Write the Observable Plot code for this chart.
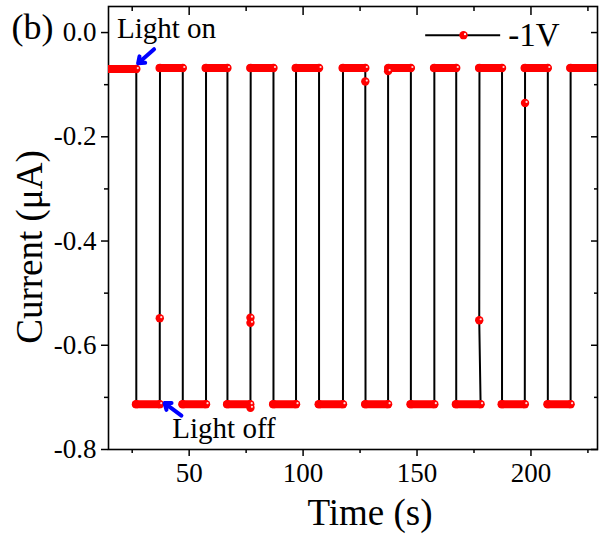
<!DOCTYPE html>
<html><head><meta charset="utf-8">
<script src="https://cdn.jsdelivr.net/npm/d3@7"></script>
<script src="https://cdn.jsdelivr.net/npm/@observablehq/plot@0.6"></script>
<style>body{margin:0;background:#fff} #chart svg{display:block}</style>
</head><body><div id="chart"></div>
<script>
// Photocurrent response at -1V
const time = [13, 26.8, 26.8, 37.1, 37.1, 37.2, 47.2, 47.2, 57.4, 57.4, 66.8, 66.8, 76.8, 76.9, 76.9, 76.9, 77.0,
  87.0, 87.0, 96.9, 96.9, 107.0, 107.0, 117.5, 117.5, 127.3, 127.3, 127.4, 137.3, 137.3, 137.5, 147.3, 147.3,
  157.6, 157.6, 167.2, 167.2, 177.9, 177.3, 177.4, 187.3, 187.3, 197.3, 197.4, 197.4, 207.4, 207.4, 217.4, 217.4, 231];
const current = [-0.070, -0.070, -0.713, -0.713, -0.548, -0.068, -0.068, -0.713, -0.713, -0.068, -0.068, -0.713, -0.713, -0.720, -0.557, -0.547, -0.068,
  -0.068, -0.713, -0.713, -0.068, -0.068, -0.713, -0.713, -0.068, -0.068, -0.094, -0.713, -0.713, -0.074, -0.068, -0.068, -0.713,
  -0.713, -0.068, -0.068, -0.713, -0.713, -0.552, -0.068, -0.068, -0.713, -0.713, -0.135, -0.068, -0.068, -0.713, -0.713, -0.068, -0.068];

const xTicks = [50, 100, 150, 200];
const xMinorTicks = [25, 75, 125, 175, 225];
const yTicks = [0.0, -0.2, -0.4, -0.6, -0.8];
const yMinorTicks = [-0.1, -0.3, -0.5, -0.7];

const seriesName = "-1V";
const panelLabel = "(b)";
const xTitle = "Time (s)";
const yTitle = "Current (μA)";

const noteText = ["Light on", "Light off"];
const noteTime = [18.3, 42.6];
const noteCurrent = [-0.010, -0.777];
const arrowTailTime = [34.6, 46.6];
const arrowTailCurrent = [-0.032, -0.735];
const arrowHeadTime = [27.6, 39.2];
const arrowHeadCurrent = [-0.059, -0.711];

const legendTime = [153.8, 186.7];
const legendDotTime = 170.4;
const legendCurrent = -0.005;
const legendTextTime = 190.0;

// build tables
const pts = time.map((t, i) => ({t, I: current[i]}));
const plateaus = [];
for (let i = 0; i < pts.length - 1; i++) {
  if (pts[i].I === pts[i + 1].I && pts[i + 1].t > pts[i].t) plateaus.push({t1: pts[i].t, t2: pts[i + 1].t, I: pts[i].I});
}
const highlights = pts.filter((p, i) => i < pts.length - 1 && pts[i + 1].I !== p.I);
const notes = noteText.map((s, i) => ({s, t: noteTime[i], I: noteCurrent[i]}));
const arrows = arrowTailTime.map((t, i) => ({x1: t, y1: arrowTailCurrent[i], x2: arrowHeadTime[i], y2: arrowHeadCurrent[i]}));

const RED = "#ff0000";
const F = "'Liberation Serif', 'Times New Roman', serif";

const chart = Plot.plot({
  width: 601, height: 535,
  marginLeft: 108, marginRight: 4, marginTop: 6, marginBottom: 86,
  x: {domain: [14.6, 229.2]},
  y: {domain: [-0.8, 0.05]},
  style: {fontFamily: F, background: "#fff", color: "#000"},
  marks: [
    // axes
    Plot.axisX(xTicks, {anchor: "bottom", tickSize: 7, tickPadding: 6, fontSize: 27, strokeWidth: 1.5, tickFormat: d => String(d), label: null}),
    Plot.axisX(xMinorTicks, {anchor: "bottom", tickSize: 4, strokeWidth: 1.5, tickFormat: () => "", label: null}),
    Plot.axisX(xTicks, {anchor: "top", tickSize: -8, strokeWidth: 1.5, tickFormat: () => "", label: null}),
    Plot.axisX(xMinorTicks, {anchor: "top", tickSize: -4, strokeWidth: 1.5, tickFormat: () => "", label: null}),
    Plot.axisY(yTicks, {anchor: "left", tickSize: 7, tickPadding: 5, fontSize: 27, strokeWidth: 1.5, tickFormat: d => d.toFixed(1), label: null}),
    Plot.axisY(yMinorTicks, {anchor: "left", tickSize: 4, strokeWidth: 1.5, tickFormat: () => "", label: null}),
    Plot.axisY(yTicks, {anchor: "right", tickSize: -7, strokeWidth: 1.5, tickFormat: () => "", label: null}),
    Plot.axisY(yMinorTicks, {anchor: "right", tickSize: -4, strokeWidth: 1.5, tickFormat: () => "", label: null}),
    Plot.frame({stroke: "#000", strokeWidth: 1.6}),
    // data
    Plot.line(pts, {x: "t", y: "I", stroke: "#000", strokeWidth: 2, clip: true}),
    Plot.ruleY(plateaus, {y: "I", x1: "t1", x2: "t2", stroke: RED, strokeWidth: 8, strokeLinecap: "round", clip: true}),
    Plot.dot(pts, {x: "t", y: "I", r: 4.2, fill: RED, clip: true}),
    Plot.dot(highlights, {x: "t", y: "I", r: 1.1, fill: "#fff", fillOpacity: 0.85, dx: 1.5, dy: -1, clip: true}),
    // annotations
    Plot.text(notes, {x: "t", y: "I", text: "s", textAnchor: "start", lineAnchor: "bottom", fontSize: 29, fill: "#000"}),
    Plot.arrow(arrows, {x1: "x1", y1: "y1", x2: "x2", y2: "y2", stroke: "#0000ff", strokeWidth: 4, headLength: 11, headAngle: 75}),
    // legend
    Plot.ruleY([legendCurrent], {x1: legendTime[0], x2: legendTime[1], stroke: "#000", strokeWidth: 2}),
    Plot.dot([legendDotTime], {x: d => d, y: () => legendCurrent, r: 4.2, fill: RED}),
    Plot.dot([legendDotTime], {x: d => d, y: () => legendCurrent, r: 1.1, fill: "#fff", dx: 1.5, dy: -1}),
    Plot.text([seriesName], {x: () => legendTextTime, y: () => legendCurrent, text: d => d, textAnchor: "start", fontSize: 33, fill: "#000"}),
    // titles
    Plot.text([panelLabel], {frameAnchor: "top-left", dx: -97, dy: 21, textAnchor: "start", lineAnchor: "middle", fontSize: 36, fill: "#000"}),
    Plot.text([yTitle], {frameAnchor: "left", dx: -78, dy: 19, rotate: -90, textAnchor: "middle", lineAnchor: "middle", fontSize: 37, fill: "#000"}),
    Plot.text([xTitle], {frameAnchor: "bottom", dx: 17, dy: 64, textAnchor: "middle", lineAnchor: "middle", fontSize: 37, fill: "#000"})
  ]
});
document.getElementById("chart").appendChild(chart);
</script>
</body></html>
